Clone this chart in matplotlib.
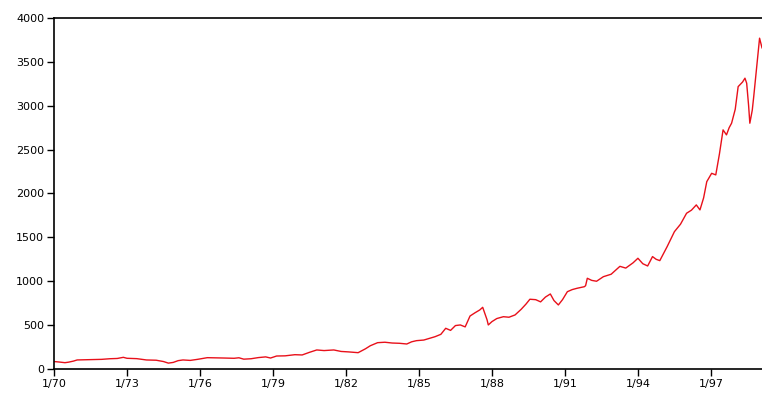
import matplotlib
matplotlib.use("Agg")
import matplotlib.pyplot as plt

# index level, sampled at turning points (decimal years)
anos = [1970.0, 1970.2, 1970.45, 1970.6, 1970.8, 1970.95, 1971.3, 1971.6, 1971.96, 1972.3,
        1972.6, 1972.85, 1973.0, 1973.4, 1973.8, 1974.2, 1974.5, 1974.7, 1974.9, 1975.1,
        1975.3, 1975.6, 1975.9, 1976.1, 1976.3, 1976.7, 1977.0, 1977.4, 1977.6, 1977.8,
        1978.1, 1978.4, 1978.7, 1978.9, 1979.15, 1979.5, 1979.9, 1980.2, 1980.5, 1980.8,
        1981.1, 1981.5, 1981.8, 1982.1, 1982.5, 1982.8, 1983.0, 1983.3, 1983.6, 1983.9,
        1984.2, 1984.5, 1984.7, 1984.9, 1985.2, 1985.5, 1985.66, 1985.9, 1986.1, 1986.3,
        1986.5, 1986.7, 1986.9, 1987.1, 1987.3, 1987.5, 1987.62, 1987.8, 1987.85, 1988.0,
        1988.2, 1988.47, 1988.7, 1988.95, 1989.2, 1989.4, 1989.56, 1989.8, 1990.0, 1990.2,
        1990.4, 1990.55, 1990.73, 1990.9, 1991.1, 1991.3, 1991.5, 1991.8, 1991.85, 1991.92,
        1992.1, 1992.3, 1992.58, 1992.9, 1993.26, 1993.5, 1993.8, 1994.0, 1994.2, 1994.4,
        1994.6, 1994.75, 1994.9, 1995.2, 1995.5, 1995.75, 1996.0, 1996.2, 1996.4, 1996.55,
        1996.7, 1996.83, 1997.03, 1997.2, 1997.35, 1997.5, 1997.64, 1997.75, 1997.85, 1998.0,
        1998.12, 1998.3, 1998.4, 1998.47, 1998.55, 1998.6, 1998.7, 1998.76, 1998.9, 1999.0,
        1999.1]
valores = [85, 80, 72, 78, 90, 103, 105, 106, 110, 117,
           120, 133, 122, 118, 103, 100, 85, 67, 75, 95,
           103, 98, 110, 120, 129, 127, 125, 122, 128, 112,
           117, 130, 138, 125, 148, 150, 163, 160, 190, 217,
           210, 217, 200, 195, 186, 230, 265, 300, 305, 296,
           293, 285, 310, 323, 330, 355, 368, 395, 464, 440,
           495, 502, 480, 604, 640, 673, 703, 560, 502, 540,
           575, 596, 590, 616, 680, 740, 795, 790, 765, 820,
           855, 780, 730, 790, 881, 905, 920, 938, 950, 1034,
           1010, 1000, 1052, 1080, 1170, 1150, 1210, 1262, 1200, 1174,
           1281, 1250, 1235, 1394, 1565, 1650, 1775, 1810, 1870, 1813,
           1950, 2135, 2230, 2212, 2450, 2725, 2668, 2750, 2801, 2960,
           3218, 3270, 3314, 3257, 3000, 2801, 2950, 3104, 3500, 3770,
           3660]

ticks_x = [1970, 1973, 1976, 1979, 1982, 1985, 1988, 1991, 1994, 1997]
rotulos_x = ['1/70', '1/73', '1/76', '1/79', '1/82', '1/85', '1/88', '1/91', '1/94', '1/97']
ticks_y = [0, 500, 1000, 1500, 2000, 2500, 3000, 3500, 4000]

fig = plt.figure(figsize=(7.62, 3.93), dpi=100)
ax = fig.add_axes([54/762, 1 - 369/393, 1 - 54/762, (369 - 18)/393])
ax.plot(anos, valores, color='#e8101a', linewidth=1.0)

ax.set_xlim(1970, 1999.1)
ax.set_ylim(0, 4000)
ax.set_xticks(ticks_x)
ax.set_xticklabels(rotulos_x)
ax.set_yticks(ticks_y)
ax.tick_params(direction='out', length=5, width=1, labelsize=8, colors='black', pad=2)
ax.spines['right'].set_visible(False)
for s in ['top', 'left', 'bottom']:
    ax.spines[s].set_linewidth(1.2)

fig.savefig('out.png', dpi=100)
